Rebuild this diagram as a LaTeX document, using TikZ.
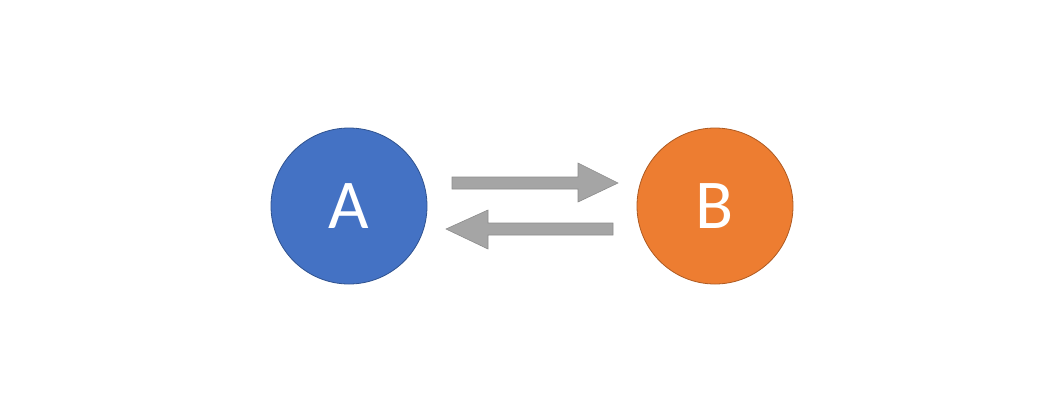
\documentclass[tikz,border=0pt]{standalone}
\usepackage{fontspec}
\setmainfont{Carlito}
\usetikzlibrary{shapes.arrows}
\definecolor{ablue}{HTML}{4472C4}
\definecolor{ablueline}{HTML}{2F528F}
\definecolor{borange}{HTML}{ED7D31}
\definecolor{borangeline}{HTML}{AE5A21}
\definecolor{agray}{HTML}{A5A5A5}
\definecolor{agrayline}{HTML}{8C8C8C}
\tikzset{
  ball/.style={circle, minimum size=156pt, inner sep=0pt, line width=0.8pt, text=white, font=\fontsize{70}{74}\selectfont},
  garrow/.style={fill=agray, draw=agrayline, line width=0.6pt},
}
\begin{document}
\begin{tikzpicture}[x=1pt,y=-1pt]
\useasboundingbox (0,0) rectangle (1057,413);
\node[ball, fill=ablue, draw=ablueline] (A) at (349,206) {A};
\node[ball, fill=borange, draw=borangeline] (B) at (715,206) {B};
\coordinate (t2) at (618,183);
\coordinate (b2) at (446,229);
\draw[garrow] (452,177) -- (578,177) -- (578,163) -- (t2) -- (578,202) -- (578,189) -- (452,189) -- cycle;
\draw[garrow] (613,223) -- (488,223) -- (488,210) -- (b2) -- (488,249) -- (488,235) -- (613,235) -- cycle;
\end{tikzpicture}
\end{document}
